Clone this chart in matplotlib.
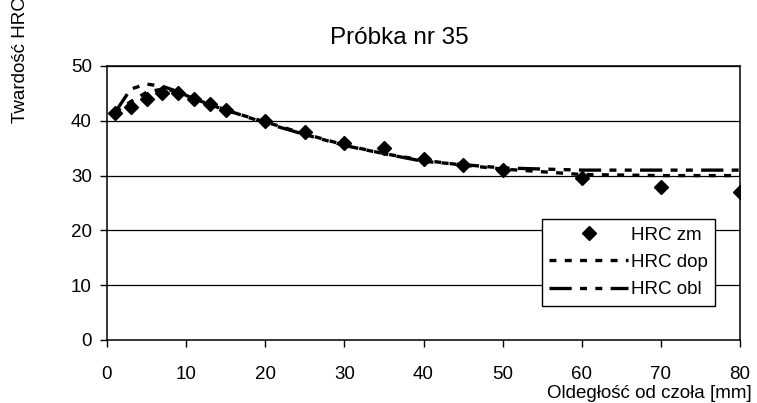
import matplotlib
matplotlib.use("Agg")
import matplotlib.pyplot as plt

plt.rcParams["font.family"] = ["Liberation Sans", "DejaVu Sans"]
plt.rcParams["lines.scale_dashes"] = False

# distance from quenched end [mm]
dist = [1, 3, 5, 7, 9, 11, 13, 15, 20, 25, 30, 35, 40, 45, 50, 60, 70, 80]
# measured hardness
hrc_zm = [41.5, 42.5, 44, 45, 45, 44, 43, 42, 40, 38, 36, 35, 33, 32, 31, 29.5, 28, 27]
# fitted hardness
hrc_dop = [41.5, 43.5, 45.2, 45.8, 45.3, 44, 43, 41.9, 39.8, 37.6, 35.6, 34, 32.8, 31.9, 31.2, 30.2, 30, 30]
# calculated hardness
hrc_obl = [41.5, 45.8, 46.7, 46.3, 45.3, 44.2, 43, 42, 39.6, 37.5, 35.5, 34, 32.6, 32, 31.4, 31, 31, 31]

yticks = [0, 10, 20, 30, 40, 50]
xticks = [0, 10, 20, 30, 40, 50, 60, 70, 80]

fig = plt.figure(figsize=(7.57, 4.03), dpi=100)
ax = fig.add_axes([107 / 757, 1 - 340 / 403, 633 / 757, 274 / 403])

for y in yticks[1:]:
    ax.axhline(y, color="black", lw=0.9, zorder=1)

ax.plot(dist, hrc_zm, linestyle="none", marker="D", ms=7.5, color="black",
        label="HRC zm", zorder=4)
ax.plot(dist, hrc_dop, color="black", lw=2.4, dashes=(5, 6),
        label="HRC dop", zorder=3)
ax.plot(dist, hrc_obl, color="black", lw=2.4, dashes=(16, 6, 5, 6, 5, 6),
        label="HRC obl", zorder=3)

ax.set_xlim(0, 80)
ax.set_ylim(0, 50)
ax.set_xticks(xticks)
ax.set_yticks(yticks)
ax.tick_params(direction="out", length=5, width=1, labelsize=13.5, pad=6,
               colors="black")
ax.tick_params(axis="x", pad=14)
for s in ax.spines.values():
    s.set_linewidth(1.1)
    s.set_color("black")

leg = ax.legend(loc="upper left", bbox_to_anchor=(0.687, 0.442),
                borderaxespad=0, fontsize=13.5, frameon=True, fancybox=False,
                edgecolor="black", framealpha=1, handlelength=4.2,
                handletextpad=0.15, labelspacing=0.55, borderpad=0.4)
leg.get_frame().set_linewidth(1.0)

fig.text(399 / 757, 1 - 38 / 403, "Próbka nr 35", ha="center", va="center",
         fontsize=17.5)
fig.text(752 / 757, 1 - 393 / 403, "Oldegłość od czoła [mm]", ha="right",
         va="center", fontsize=13.5)
fig.text(21 / 757, 1 - 60 / 403, "Twardość HRC", ha="center", va="center",
         rotation=90, fontsize=13.5)

fig.savefig("out.png", dpi=100)
